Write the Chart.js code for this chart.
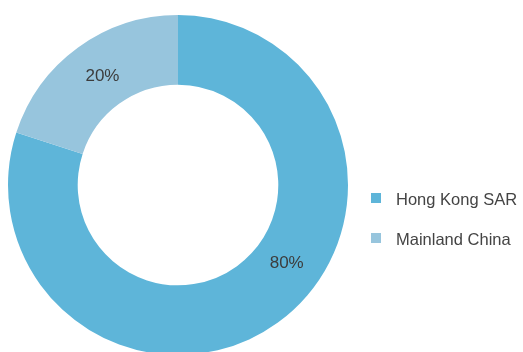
<!DOCTYPE html>
<html>
<head>
<meta charset="utf-8">
<script src="https://cdn.jsdelivr.net/npm/chart.js@4/dist/chart.umd.min.js"></script>
<style>
  html, body { margin: 0; padding: 0; background: #ffffff; overflow: hidden; }
  #wrap { position: relative; width: 523px; height: 352px; overflow: hidden; }
  canvas { position: absolute; left: 0; top: 0; }
</style>
</head>
<body>
<div id="wrap"><canvas id="chart" width="523" height="360"></canvas></div>
<script>
// Revenue split by region
const categories = ['Hong Kong SAR', 'Mainland China'];
const shares = [80, 20];
const valueLabels = ['80%', '20%'];
const colours = ['#5eb5d9', '#97c5dd'];
// where along each slice its percentage label sits (0 = start, 1 = end)
const labelAlong = [0.435, 0.52];

const FONT = '"Liberation Sans", Arial, sans-serif';

const sliceLabels = {
  id: 'sliceLabels',
  afterDatasetsDraw(chart) {
    const ctx = chart.ctx;
    const meta = chart.getDatasetMeta(0);
    ctx.save();
    ctx.font = '17px ' + FONT;
    ctx.fillStyle = '#3c3c3c';
    ctx.textAlign = 'center';
    ctx.textBaseline = 'middle';
    meta.data.forEach((arc, i) => {
      const p = arc.getProps(['x', 'y', 'startAngle', 'endAngle', 'innerRadius', 'outerRadius'], true);
      const a = p.startAngle + (p.endAngle - p.startAngle) * labelAlong[i];
      const r = (p.innerRadius + p.outerRadius) / 2 - 2;
      ctx.fillText(valueLabels[i], p.x + Math.cos(a) * r, p.y + Math.sin(a) * r + 1);
    });
    ctx.restore();
  }
};

const sideLegend = {
  id: 'sideLegend',
  afterDraw(chart) {
    const ctx = chart.ctx;
    const area = chart.chartArea;
    const left = area.right + 23;
    const top = 193;
    const gap = 40;
    ctx.save();
    ctx.font = '16.5px ' + FONT;
    ctx.textBaseline = 'middle';
    ctx.textAlign = 'left';
    categories.forEach((name, i) => {
      const y = top + i * gap;
      ctx.fillStyle = colours[i];
      ctx.fillRect(left, y, 10, 10);
      ctx.fillStyle = '#444444';
      ctx.fillText(name, left + 25, y + 7);
    });
    ctx.restore();
  }
};

new Chart(document.getElementById('chart'), {
  type: 'doughnut',
  data: {
    labels: categories,
    datasets: [{
      data: shares,
      backgroundColor: colours,
      borderWidth: 0,
      hoverOffset: 0
    }]
  },
  options: {
    responsive: false,
    animation: false,
    cutout: '59%',
    layout: { padding: { left: 8, top: 15, right: 175, bottom: 5 } },
    plugins: {
      legend: { display: false },
      tooltip: { enabled: false }
    }
  },
  plugins: [sliceLabels, sideLegend]
});
</script>
</body>
</html>
